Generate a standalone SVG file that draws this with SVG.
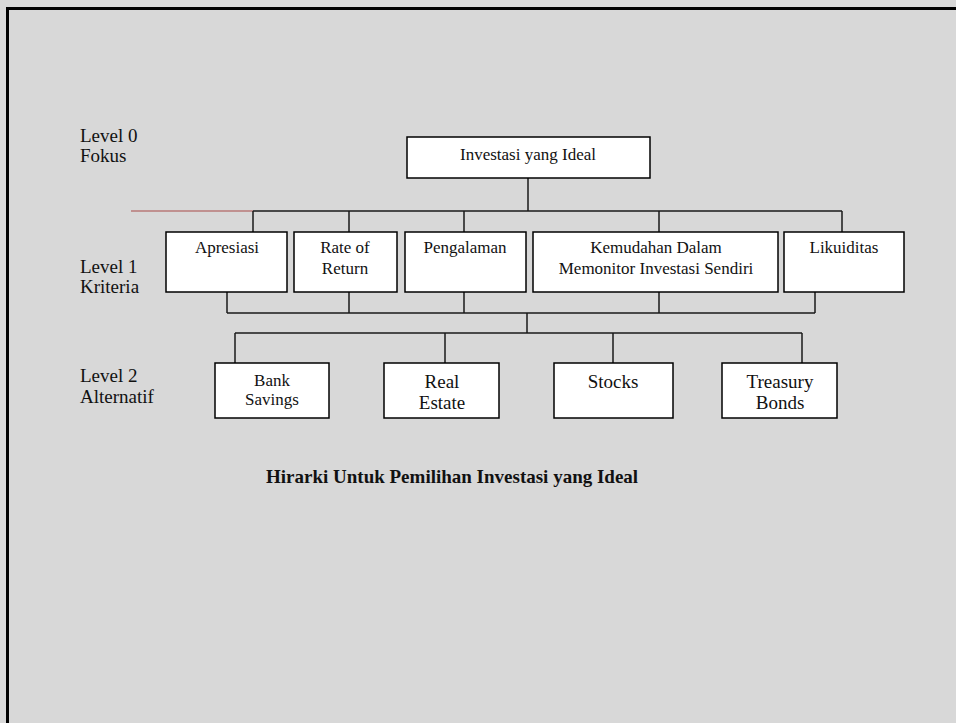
<svg xmlns="http://www.w3.org/2000/svg" width="956" height="723" viewBox="0 0 956 723">
<style>
.bg{fill:#d8d8d8}
.frame{stroke:#000;stroke-width:3;fill:none}
.box{fill:#fff;stroke:#000;stroke-width:1.5}
.ln{stroke:#1a1a1a;stroke-width:1.5;fill:none}
.red{stroke:#b87a78;stroke-width:1.5}
text{font-family:"Liberation Serif","Times New Roman",serif;fill:#111}
.t{font-size:17px;text-anchor:middle}
.t19{font-size:19px;text-anchor:middle}
.lbl{font-size:19px}
.title{font-size:19px;font-weight:bold}
</style>
<rect class="bg" x="0" y="0" width="956" height="723"/>
<path class="frame" d="M7.5 723 V8.5 H956"/>
<g id="labels">
<text class="lbl" x="80" y="142">Level 0</text>
<text class="lbl" x="80" y="162">Fokus</text>
<text class="lbl" x="80" y="273">Level 1</text>
<text class="lbl" x="80" y="293">Kriteria</text>
<text class="lbl" x="80" y="382">Level 2</text>
<text class="lbl" x="80" y="403">Alternatif</text>
</g>
<g id="connectors">
<line class="red" x1="131" y1="211" x2="253" y2="211"/>
<path class="ln" d="M528 178 V211 M253 211 H842 M253 211 V232 M349 211 V232 M464 211 V232 M659 211 V232 M842 211 V232"/>
<path class="ln" d="M227 292 V313 M349 292 V313 M464 292 V313 M659 292 V313 M815 292 V313 M227 313 H815"/>
<path class="ln" d="M527 313 V333 M235 333 H802 M235 333 V363 M445 333 V363 M613 333 V363 M802 333 V363"/>
</g>
<g id="n-focus">
<rect class="box" x="407" y="137" width="243" height="41"/>
<text class="t" x="528" y="160">Investasi yang Ideal</text>
</g>
<g id="n-apresiasi">
<rect class="box" x="166" y="232" width="121" height="60"/>
<text class="t" x="227" y="253">Apresiasi</text>
</g>
<g id="n-rate">
<rect class="box" x="294" y="232" width="103" height="60"/>
<text class="t" x="345" y="253">Rate of</text>
<text class="t" x="345" y="274">Return</text>
</g>
<g id="n-pengalaman">
<rect class="box" x="405" y="232" width="121" height="60"/>
<text class="t" x="465" y="253">Pengalaman</text>
</g>
<g id="n-kemudahan">
<rect class="box" x="533" y="232" width="245" height="60"/>
<text class="t" x="656" y="253">Kemudahan Dalam</text>
<text class="t" x="656" y="274">Memonitor Investasi Sendiri</text>
</g>
<g id="n-likuiditas">
<rect class="box" x="784" y="232" width="120" height="60"/>
<text class="t" x="844" y="253">Likuiditas</text>
</g>
<g id="n-bank">
<rect class="box" x="215" y="363" width="114" height="55"/>
<text class="t" x="272" y="386">Bank</text>
<text class="t" x="272" y="405">Savings</text>
</g>
<g id="n-real">
<rect class="box" x="384" y="363" width="115" height="55"/>
<text class="t19" x="442" y="388">Real</text>
<text class="t19" x="442" y="409">Estate</text>
</g>
<g id="n-stocks">
<rect class="box" x="554" y="363" width="119" height="55"/>
<text class="t19" x="613" y="388">Stocks</text>
</g>
<g id="n-treasury">
<rect class="box" x="722" y="363" width="115" height="55"/>
<text class="t19" x="780" y="388">Treasury</text>
<text class="t19" x="780" y="409">Bonds</text>
</g>
<text class="title" x="266" y="483">Hirarki Untuk Pemilihan Investasi yang Ideal</text>
</svg>
